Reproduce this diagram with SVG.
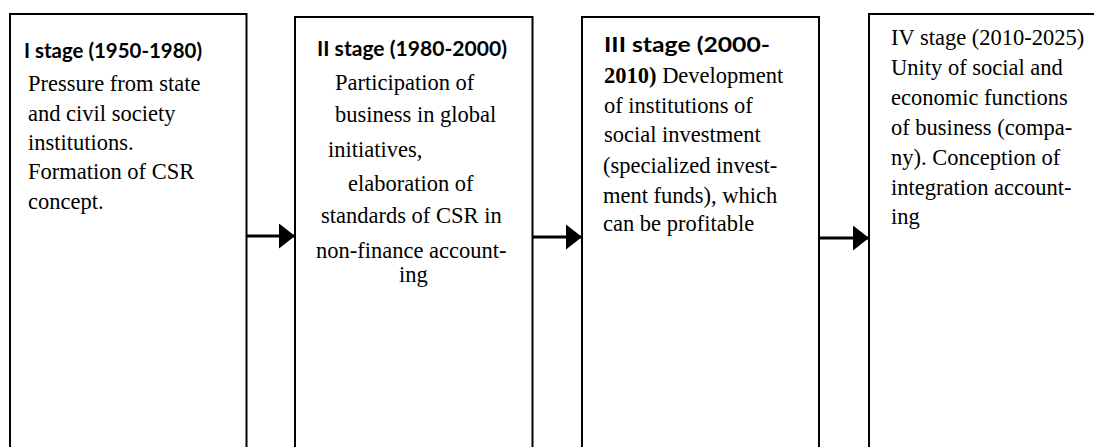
<svg xmlns="http://www.w3.org/2000/svg" width="1094" height="447" viewBox="0 0 1094 447">
<style>
.box{fill:none;stroke:#000;stroke-width:2}
.t{font-family:"Liberation Serif","Times New Roman",serif;font-size:22.5px;fill:#000}
.h{font-family:Lato,"Open Sans",sans-serif;font-weight:bold;font-size:21px;fill:#000}
.hb{font-weight:bold}
.c{fill:none;stroke:#000;stroke-width:3}
</style>
<defs>
<marker id="arr" markerUnits="userSpaceOnUse" markerWidth="17" markerHeight="26" refX="16" refY="12.5" orient="auto">
<path d="M0,0 L16,12.5 L0,25 Z" fill="#000"/>
</marker>
</defs>
<rect width="1094" height="447" fill="#fff"/>
<g id="connectors">
<path class="c" d="M246,236 H295" marker-end="url(#arr)"/>
<path class="c" d="M533,237 H582" marker-end="url(#arr)"/>
<path class="c" d="M819,238 H869" marker-end="url(#arr)"/>
</g>
<g id="stage1">
<rect class="box" x="10" y="14" width="236.5" height="450"/>
<text class="h" x="24" y="58" textLength="178" lengthAdjust="spacingAndGlyphs">I stage (1950-1980)</text>
<text class="t" x="28" y="91">Pressure from state</text>
<text class="t" x="28" y="121">and civil society</text>
<text class="t" x="28" y="150">institutions.</text>
<text class="t" x="28" y="179">Formation of CSR</text>
<text class="t" x="28" y="209">concept.</text>
</g>
<g id="stage2">
<rect class="box" x="295" y="17" width="237.5" height="450"/>
<text class="h" x="317" y="56" textLength="190" lengthAdjust="spacingAndGlyphs">II stage (1980-2000)</text>
<text class="t" x="335" y="90">Participation of</text>
<text class="t" x="335" y="122">business in global</text>
<text class="t" x="328" y="157">initiatives,</text>
<text class="t" x="348" y="191">elaboration of</text>
<text class="t" x="321" y="223">standards of CSR in</text>
<text class="t" x="316" y="258">non-finance account-</text>
<text class="t" x="399" y="282">ing</text>
</g>
<g id="stage3">
<rect class="box" x="582" y="17" width="237" height="450"/>
<text class="h" x="604" y="52" textLength="166" lengthAdjust="spacingAndGlyphs">III stage (2000-</text>
<text class="t" x="604" y="83"><tspan class="hb">2010)</tspan> Development</text>
<text class="t" x="604" y="113">of institutions of</text>
<text class="t" x="604" y="142">social investment</text>
<text class="t" x="603" y="173">(specialized invest-</text>
<text class="t" x="603" y="203">ment funds), which</text>
<text class="t" x="603" y="231">can be profitable</text>
</g>
<g id="stage4">
<rect class="box" x="869" y="14" width="240" height="450"/>
<text class="t" x="891" y="45">IV stage (2010-2025)</text>
<text class="t" x="891" y="75">Unity of social and</text>
<text class="t" x="891" y="105">economic functions</text>
<text class="t" x="891" y="135">of business (compa-</text>
<text class="t" x="891" y="165">ny). Conception of</text>
<text class="t" x="891" y="195">integration account-</text>
<text class="t" x="891" y="224">ing</text>
</g>
</svg>
